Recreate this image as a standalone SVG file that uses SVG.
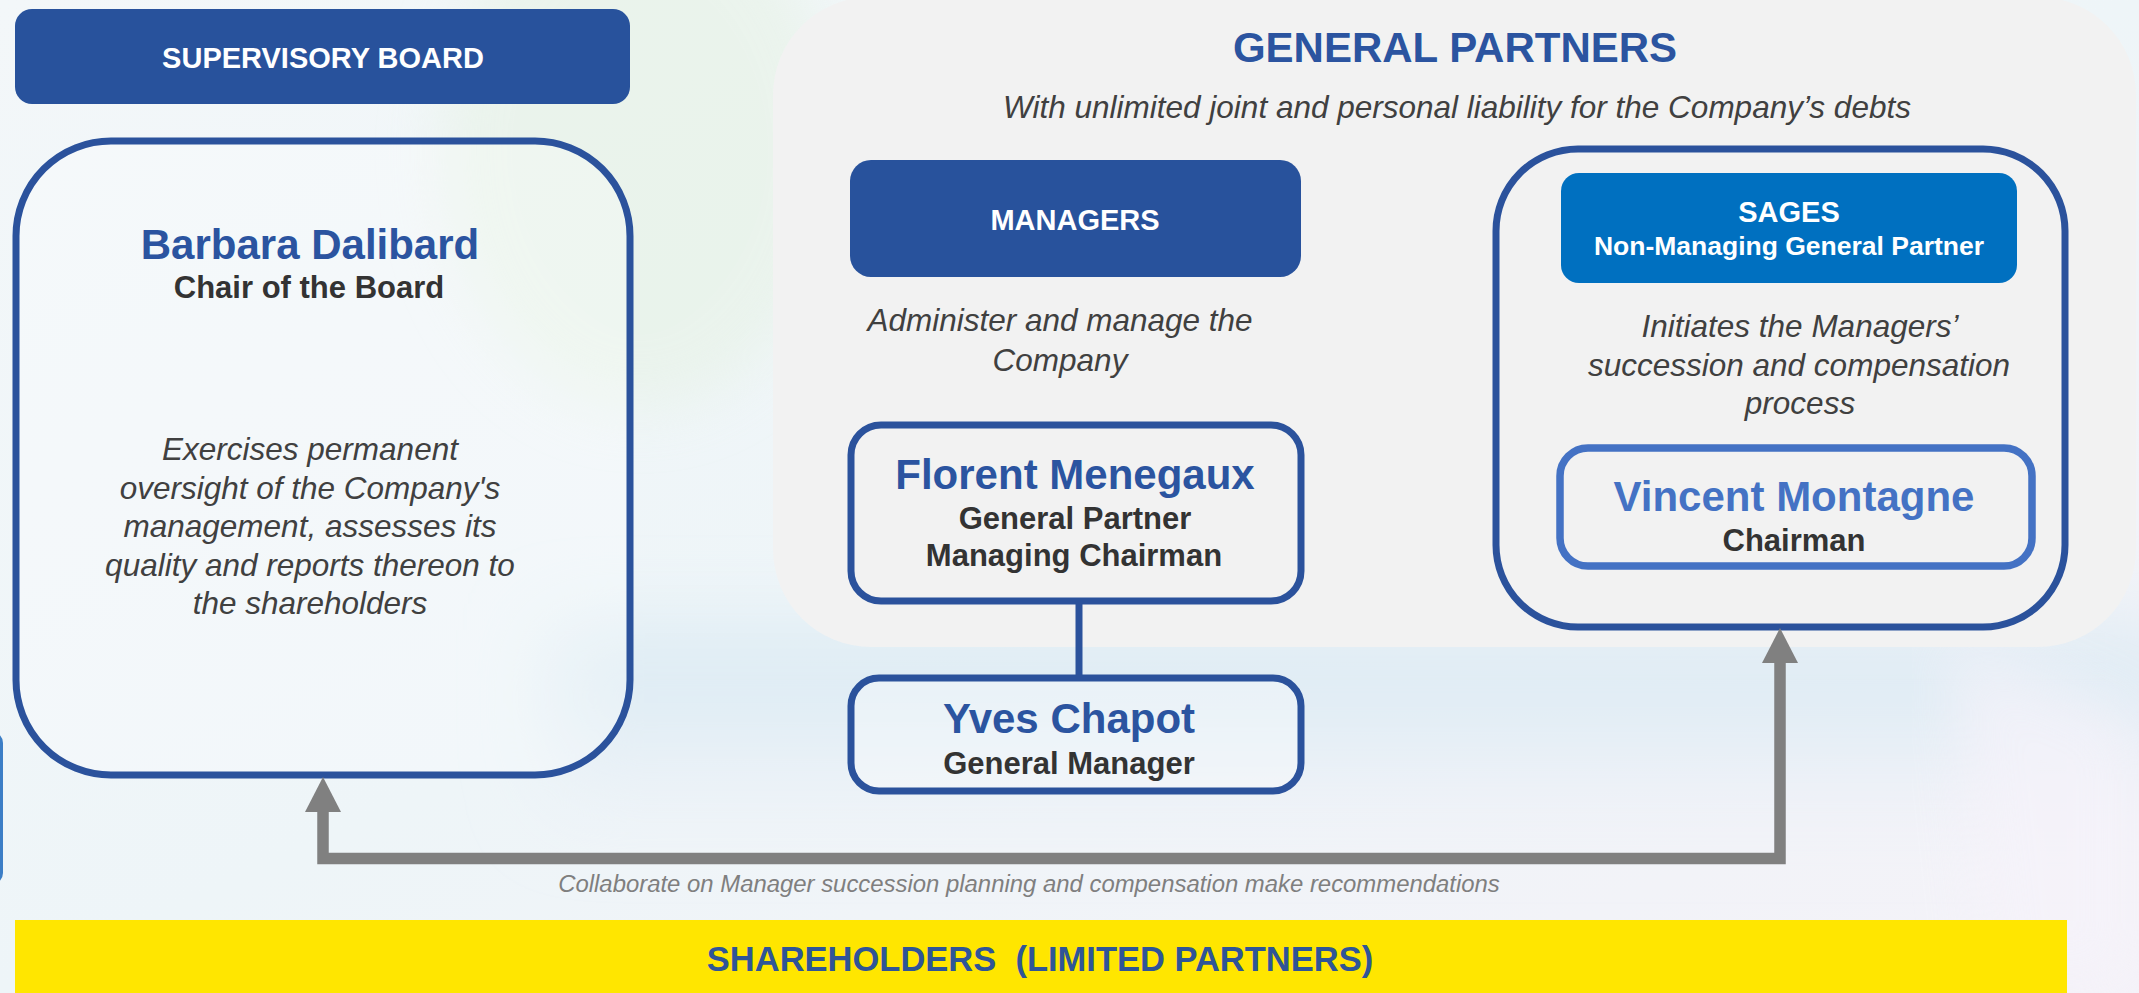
<svg xmlns="http://www.w3.org/2000/svg" width="2139" height="993" viewBox="0 0 2139 993">
  <defs>
    <style>
      .t { font-family: "Liberation Sans", Arial, sans-serif; text-anchor: middle; }
      .hdr { font-weight: bold; fill: #ffffff; }
      .name { font-weight: bold; fill: #2B54A0; font-size: 42px; }
      .role { font-weight: bold; fill: #333333; font-size: 31px; }
      .desc { font-style: italic; fill: #404040; font-size: 31.5px; }
      .box { fill: none; stroke: #2B529C; stroke-width: 7; }
    </style>
    <linearGradient id="bg" x1="0" y1="0" x2="1" y2="1">
      <stop offset="0" stop-color="#f3f7f9"/>
      <stop offset="0.5" stop-color="#eef5f8"/>
      <stop offset="1" stop-color="#f4f2f8"/>
    </linearGradient>
    <linearGradient id="band" x1="0" y1="0" x2="0" y2="1">
      <stop offset="0" stop-color="#d6e8f2" stop-opacity="0.9"/>
      <stop offset="0.6" stop-color="#e2edf5" stop-opacity="0.7"/>
      <stop offset="1" stop-color="#f0eef8" stop-opacity="0"/>
    </linearGradient>
    <filter id="blur" x="-20%" y="-20%" width="140%" height="140%">
      <feGaussianBlur stdDeviation="30"/>
    </filter>
    <filter id="blur2" x="-20%" y="-50%" width="140%" height="200%">
      <feGaussianBlur stdDeviation="40"/>
    </filter>
    <marker id="arr" markerUnits="userSpaceOnUse" markerWidth="36" markerHeight="36" refX="0" refY="18" orient="auto-start-reverse" viewBox="0 0 36 36">
      <path d="M0,0 L35,18 L0,36 Z" fill="#808080"/>
    </marker>
  </defs>

  <!-- background -->
  <rect x="0" y="0" width="2139" height="993" fill="url(#bg)"/>
  <ellipse cx="640" cy="150" rx="200" ry="260" fill="#e6f2e4" opacity="0.6" filter="url(#blur)"/>
  <rect x="550" y="630" width="1650" height="200" fill="url(#band)" filter="url(#blur2)"/>
  <path d="M1950,640 L2139,720 L2139,993 L1990,993 Z" fill="#f6f3fa" opacity="0.7" filter="url(#blur)"/>

  <!-- partial shape at the left edge -->
  <rect x="-100" y="733" width="101.5" height="150" rx="10" fill="none" stroke="#3C7EC6" stroke-width="3"/>

  <!-- general partners panel -->
  <g id="general-partners">
    <rect x="773" y="-3" width="1363" height="650" rx="98" fill="#f2f2f2"/>
    <text class="t name" x="1455" y="62">GENERAL PARTNERS</text>
    <text class="t desc" x="1457" y="118">With unlimited joint and personal liability for the Company’s debts</text>
  </g>

  <!-- supervisory board -->
  <g id="supervisory-board-header">
    <rect x="15" y="9" width="615" height="95" rx="17" fill="#28529C"/>
    <text class="t hdr" x="323" y="68" font-size="29">SUPERVISORY BOARD</text>
  </g>
  <g id="barbara-dalibard">
    <rect class="box" x="16" y="141" width="614" height="634" rx="95" style="fill:#ffffff;fill-opacity:0.25"/>
    <text class="t name" x="310" y="259">Barbara Dalibard</text>
    <text class="t role" x="309" y="298" font-size="30.5">Chair of the Board</text>
    <text class="t desc" x="310" y="460">Exercises permanent</text>
    <text class="t desc" x="310" y="499">oversight of the Company's</text>
    <text class="t desc" x="310" y="537">management, assesses its</text>
    <text class="t desc" x="310" y="576">quality and reports thereon to</text>
    <text class="t desc" x="310" y="614">the shareholders</text>
  </g>

  <!-- managers -->
  <g id="managers">
    <rect x="850" y="160" width="451" height="117" rx="21" fill="#28529C"/>
    <text class="t hdr" x="1075" y="230" font-size="29">MANAGERS</text>
    <text class="t desc" x="1060" y="331">Administer and manage the</text>
    <text class="t desc" x="1060" y="371">Company</text>
  </g>
  <g id="florent-menegaux">
    <rect class="box" x="851" y="425" width="450" height="176" rx="30" style="fill:#f2f2f2"/>
    <text class="t name" x="1075" y="489">Florent Menegaux</text>
    <text class="t role" x="1075" y="529">General Partner</text>
    <text class="t role" x="1074" y="566">Managing Chairman</text>
  </g>
  <g id="yves-chapot">
    <rect class="box" x="851" y="678" width="450" height="113" rx="28" style="fill:#ffffff;fill-opacity:0.3"/>
    <text class="t name" x="1069" y="733">Yves Chapot</text>
    <text class="t role" x="1069" y="774">General Manager</text>
  </g>

  <!-- sages -->
  <g id="sages">
    <rect class="box" x="1496" y="149" width="569" height="478" rx="82" style="fill:#f2f2f2"/>
    <rect x="1561" y="173" width="456" height="110" rx="18" fill="#0070C0"/>
    <text class="t hdr" x="1789" y="222" font-size="29">SAGES</text>
    <text class="t hdr" x="1789" y="255" font-size="26.5">Non-Managing General Partner</text>
    <text class="t desc" x="1800" y="337">Initiates the Managers’</text>
    <text class="t desc" x="1799" y="376">succession and compensation</text>
    <text class="t desc" x="1800" y="414">process</text>
  </g>
  <g id="vincent-montagne">
    <rect x="1560" y="448" width="472" height="118" rx="28" fill="#f2f2f2" stroke="#4472C4" stroke-width="7.5"/>
    <text class="t name" x="1794" y="511" style="fill:#4472C4">Vincent Montagne</text>
    <text class="t role" x="1794" y="551">Chairman</text>
  </g>

  <!-- connectors -->
  <g id="connectors">
    <line x1="1079" y1="601" x2="1079" y2="678" stroke="#2B529C" stroke-width="7"/>
    <path d="M323,812 V858.5 H1780 V663" fill="none" stroke="#808080" stroke-width="11.5" marker-start="url(#arr)" marker-end="url(#arr)"/>
    <text class="t" x="1029" y="892" font-size="23.9" font-style="italic" fill="#7f7f7f">Collaborate on Manager succession planning and compensation make recommendations</text>
  </g>

  <!-- shareholders -->
  <g id="shareholders">
    <rect x="15" y="920" width="2052" height="80" fill="#FFE600"/>
    <text class="t" x="1040" y="971" font-size="34.5" font-weight="bold" fill="#2F5597" xml:space="preserve">SHAREHOLDERS  (LIMITED PARTNERS)</text>
  </g>
</svg>
